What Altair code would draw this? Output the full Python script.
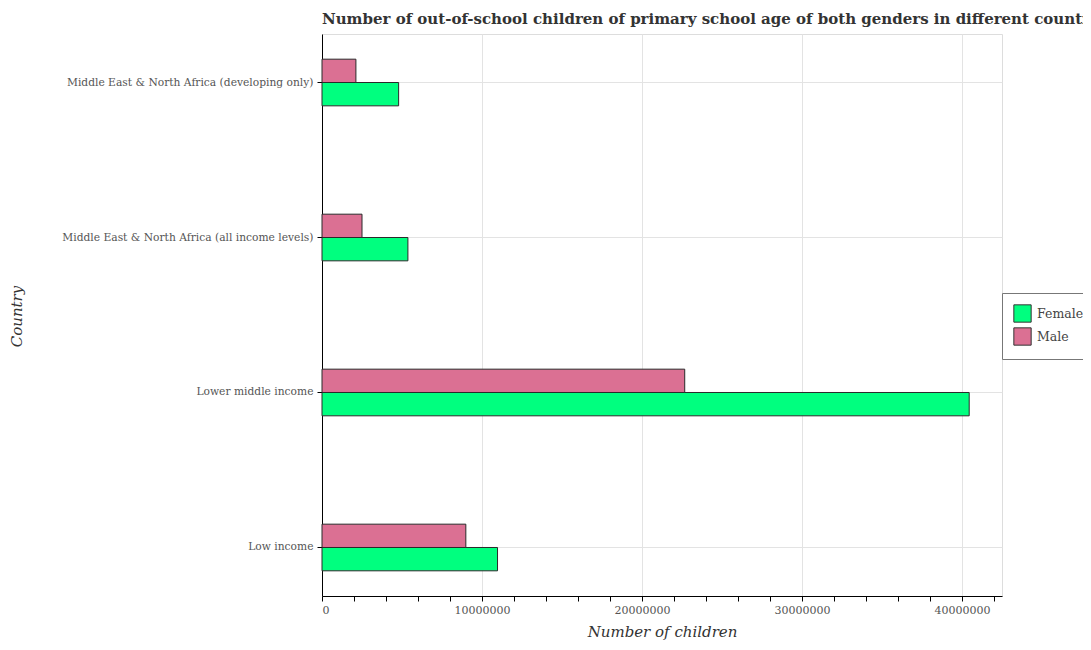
import altair as alt
import pandas as pd

countries = [
    "Low income",
    "Lower middle income",
    "Middle East & North Africa (all income levels)",
    "Middle East & North Africa (developing only)",
]
female = [10970000, 40450000, 5370000, 4790000]
male = [8990000, 22670000, 2500000, 2120000]

rows = []
for c, f, m in zip(countries, female, male):
    rows.append({"Country": c, "Gender": "Female", "Value": f})
    rows.append({"Country": c, "Gender": "Male", "Value": m})
df = pd.DataFrame(rows)

y_order = list(reversed(countries))
tick_vals = list(range(0, 42000001, 2000000))

FONT = "DejaVu Serif"

chart = (
    alt.Chart(df)
    .mark_bar(stroke="#2a2a2a", strokeWidth=1, opacity=1)
    .encode(
        x=alt.X(
            "Value:Q",
            scale=alt.Scale(domain=[0, 42500000], nice=False, zero=True),
            axis=alt.Axis(
                title="Number of children",
                values=tick_vals,
                format="d",
                labelExpr="datum.value % 10000000 === 0 ? datum.label : ''",
                gridColor={
                    "condition": {"test": "datum.value % 10000000 === 0", "value": "#e3e3e3"},
                    "value": "transparent",
                },
                grid=True,
                domainColor="#000000",
                tickColor="#000000",
                tickSize=5,
                labelFont=FONT,
                labelFontSize=11,
                labelColor="#555555",
                labelPadding=3,
                titleFont=FONT,
                titleFontSize=15,
                titleFontStyle="italic",
                titleFontWeight="normal",
                titleColor="#333333",
                titlePadding=9,
            ),
        ),
        y=alt.Y(
            "Country:N",
            sort=y_order,
            scale=alt.Scale(paddingInner=0.699, paddingOuter=0.1625),
            axis=alt.Axis(
                title="Country",
                bandPosition=0.5,
                grid=True,
                gridColor="#e3e3e3",
                domainColor="#000000",
                tickColor="#000000",
                tickSize=5,
                labelFont=FONT,
                labelFontSize=10.7,
                labelColor="#555555",
                labelPadding=4,
                labelLimit=400,
                titleFont=FONT,
                titleFontSize=15,
                titleFontStyle="italic",
                titleFontWeight="normal",
                titleColor="#333333",
                titleX=-298,
                titleY=282,
            ),
        ),
        yOffset=alt.YOffset("Gender:N", sort=["Male", "Female"], scale=alt.Scale(paddingInner=0, paddingOuter=0)),
        color=alt.Color(
            "Gender:N",
            sort=["Female", "Male"],
            scale=alt.Scale(domain=["Female", "Male"], range=["#00ff7f", "#db7093"]),
            legend=alt.Legend(
                title=None,
                orient="none",
                legendX=680,
                legendY=259,
                strokeColor="#777777",
                fillColor="#ffffff",
                padding=11,
                symbolType="square",
                symbolSize=300,
                symbolStrokeColor="#333333",
                symbolStrokeWidth=1,
                symbolOpacity=1,
                labelFont=FONT,
                labelFontSize=12.5,
                labelColor="#444444",
                rowPadding=0,
                labelOffset=5,
            ),
        ),
    )
    .properties(
        width=680,
        height=562,
        title=alt.TitleParams(
            "Number of out-of-school children of primary school age of both genders in different countries",
            anchor="start",
            frame="group",
            font=FONT,
            fontSize=15,
            fontWeight="bold",
            color="#333333",
            offset=7,
        ),
        autosize=alt.AutoSizeParams(type="none"),
        padding={"left": 314, "top": 26, "right": 81, "bottom": 44},
    )
    .configure_view(stroke="#e3e3e3", strokeWidth=1)
    .configure(background="#ffffff")
)

chart.save("out.html", embed_options={"renderer": "svg", "actions": False})
